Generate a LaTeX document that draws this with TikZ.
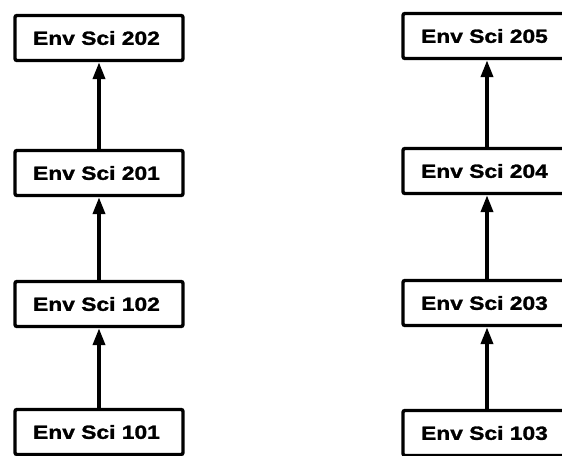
\documentclass[tikz,border=0pt]{standalone}
\usepackage{fontspec}
\setsansfont[FakeStretch=1.2,BoldFeatures={FakeBold=1.5}]{Liberation Sans}
\usetikzlibrary{arrows.meta}
\tikzset{
  course/.style={draw=black, line width=3.4pt, rounded corners=2pt, minimum width=168pt, minimum height=45pt, inner sep=0pt, font=\sffamily\bfseries\fontsize{19}{19}\selectfont, fill=white},
  prereq/.style={line width=3.8pt, -{Triangle[width=12pt,length=17pt]}}
}
\begin{document}
\begin{tikzpicture}[x=1pt,y=-1pt]
\useasboundingbox (0,0) rectangle (562,455);
\node[course] (a202) at (99,38) {Env Sci 202\hspace*{5pt}};
\node[course] (a201) at (99,173) {Env Sci 201\hspace*{5pt}};
\node[course] (a102) at (99,304) {Env Sci 102\hspace*{5pt}};
\node[course] (a101) at (99,432) {Env Sci 101\hspace*{5pt}};
\node[course] (b205) at (487,36) {Env Sci 205\hspace*{5pt}};
\node[course] (b204) at (487,171) {Env Sci 204\hspace*{5pt}};
\node[course] (b203) at (487,303) {Env Sci 203\hspace*{5pt}};
\node[course] (b103) at (487,433) {Env Sci 103\hspace*{5pt}};
\draw[prereq] (a201) -- (a202);
\draw[prereq] (a102) -- (a201);
\draw[prereq] (a101) -- (a102);
\draw[prereq] (b204) -- (b205);
\draw[prereq] (b203) -- (b204);
\draw[prereq] (b103) -- (b203);
\end{tikzpicture}
\end{document}
